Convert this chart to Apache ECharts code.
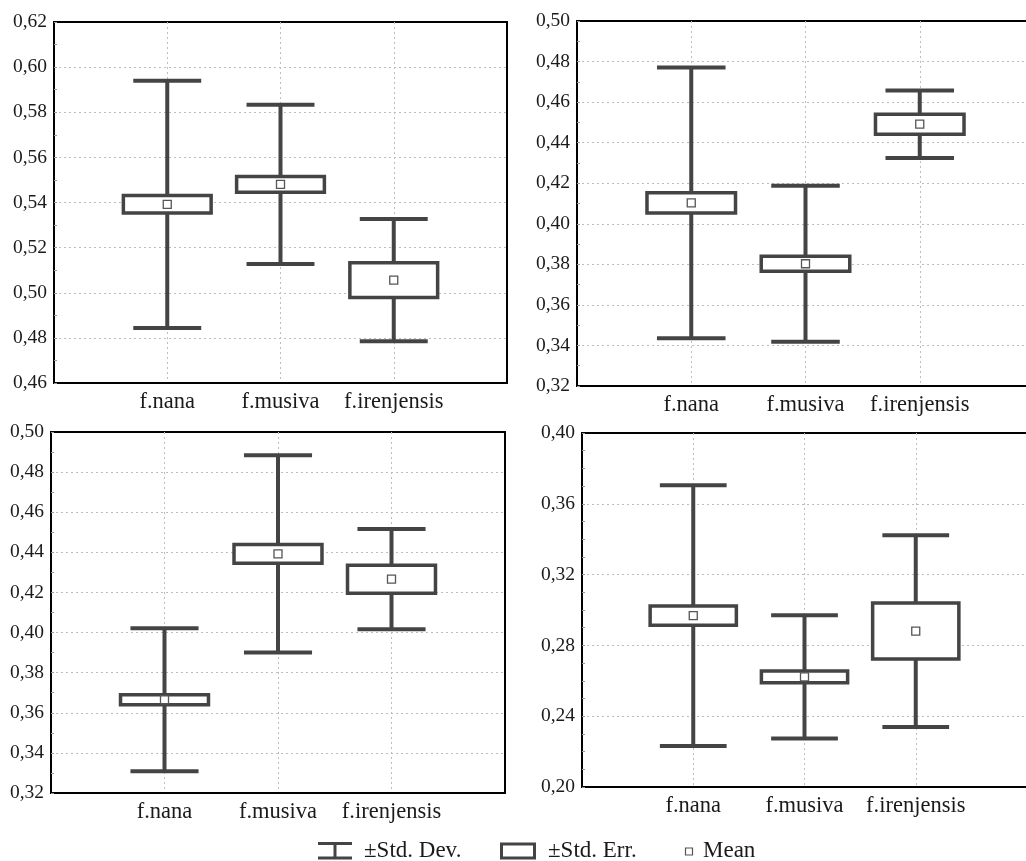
<!DOCTYPE html>
<html>
<head>
<meta charset="utf-8">
<script src="https://cdn.jsdelivr.net/npm/echarts@6/dist/echarts.min.js"></script>
<style>
html,body{margin:0;padding:0;background:#fff;}
#c{width:1026px;height:861px;}
</style>
</head>
<body>
<div id="c"></div>
<script>
// ---- data ----
const categories = ['f.nana', 'f.musiva', 'f.irenjensis'];

// Panel 1 (top-left)
const p1Mean = [0.5392, 0.5480, 0.5056];
const p1SE   = [0.0039, 0.0035, 0.0077];
const p1SD   = [0.0548, 0.0353, 0.0271];
// Panel 2 (top-right)
const p2Mean = [0.4103, 0.3803, 0.4491];
const p2SE   = [0.0050, 0.0037, 0.0049];
const p2SD   = [0.0668, 0.0385, 0.0166];
// Panel 3 (bottom-left)
const p3Mean = [0.3665, 0.4392, 0.4266];
const p3SE   = [0.0025, 0.0047, 0.0070];
const p3SD   = [0.0356, 0.0492, 0.0250];
// Panel 4 (bottom-right)
const p4Mean = [0.2968, 0.2622, 0.2881];
const p4SE   = [0.0054, 0.0033, 0.0158];
const p4SD   = [0.0737, 0.0348, 0.0542];

// y-axis ranges / tick steps
const yMin = [0.46, 0.32, 0.32, 0.20];
const yMax = [0.62, 0.50, 0.50, 0.40];
const yStep = [0.02, 0.02, 0.02, 0.04];
const yMinor = [2, 2, 2, 4];

const legendLabels = ['\u00B1Std. Dev.', '\u00B1Std. Err.', 'Mean'];

// ---- chart ----
const panels = [
  {mean: p1Mean, se: p1SE, sd: p1SD},
  {mean: p2Mean, se: p2SE, sd: p2SD},
  {mean: p3Mean, se: p3SE, sd: p3SD},
  {mean: p4Mean, se: p4SE, sd: p4SD}
];

const FONT = '"Liberation Serif", "Times New Roman", serif';
const LINE = '#444444';

const grids = [
  {left: 54, top: 22, right: 519, bottom: 478},
  {left: 577, top: 21, right: -8, bottom: 475},
  {left: 51, top: 432, right: 521, bottom: 68},
  {left: 582, top: 433, right: -1, bottom: 74}
];

const splitStyle = {color: '#bdbdbd', type: [2, 3], width: 1};

const xAxes = grids.map((g, i) => ({
  type: 'value', gridIndex: i, min: 0, max: 4, interval: 1,
  axisLine: {show: true, onZero: false, lineStyle: {color: '#000', width: 2}},
  axisTick: {show: false},
  splitLine: {show: true, showMinLine: false, showMaxLine: false, lineStyle: splitStyle},
  axisLabel: {
    fontFamily: FONT, fontSize: 22.5, color: '#1a1a1a', margin: 8,
    formatter: v => (v >= 1 && v <= 3) ? categories[v - 1] : ''
  }
}));

const yAxes = grids.map((g, i) => ({
  type: 'value', gridIndex: i, min: yMin[i], max: yMax[i], interval: yStep[i],
  axisLine: {show: true, onZero: false, lineStyle: {color: '#000', width: 2}},
  axisTick: {show: true, inside: true, length: 3, lineStyle: {color: '#999'}},
  minorTick: {show: true, splitNumber: yMinor[i], length: 3, lineStyle: {color: '#999'}},
  splitLine: {show: true, showMinLine: false, showMaxLine: false, lineStyle: splitStyle},
  axisLabel: {
    fontFamily: FONT, fontSize: 19.5, color: '#1a1a1a', margin: 7,
    formatter: v => v.toFixed(2).replace('.', ',')
  }
}));

function renderItem(params, api) {
  const xv = api.value(0), m = api.value(1), se = api.value(2), sd = api.value(3);
  const unit = api.size([1, 0])[0];
  const cx = api.coord([xv, m])[0];
  const yM = api.coord([xv, m])[1];
  const ySdT = api.coord([xv, m + sd])[1];
  const ySdB = api.coord([xv, m - sd])[1];
  const ySeT = api.coord([xv, m + se])[1];
  const ySeB = api.coord([xv, m - se])[1];
  const capW = unit * 0.60;
  const boxW = unit * 0.775;
  const ls = {stroke: LINE, lineWidth: 4};
  return {
    type: 'group',
    children: [
      {type: 'line', shape: {x1: cx, y1: ySdT, x2: cx, y2: ySdB}, style: ls},
      {type: 'line', shape: {x1: cx - capW / 2, y1: ySdT, x2: cx + capW / 2, y2: ySdT}, style: ls},
      {type: 'line', shape: {x1: cx - capW / 2, y1: ySdB, x2: cx + capW / 2, y2: ySdB}, style: ls},
      {type: 'rect', shape: {x: cx - boxW / 2, y: ySeT, width: boxW, height: ySeB - ySeT},
        style: {fill: '#fff', stroke: LINE, lineWidth: 3.5}},
      {type: 'rect', shape: {x: cx - 4, y: yM - 4, width: 8, height: 8},
        style: {fill: '#fff', stroke: '#555', lineWidth: 1.3}}
    ]
  };
}

const series = panels.map((p, i) => ({
  type: 'custom', xAxisIndex: i, yAxisIndex: i,
  renderItem: renderItem,
  clip: false,
  encode: {x: 0, y: 1},
  data: p.mean.map((m, k) => [k + 1, m, p.se[k], p.sd[k]])
}));

const legendY = 851;
const LFONT = '23px ' + FONT;
const graphic = [
  // SD icon
  {type: 'line', shape: {x1: 318, y1: 843.5, x2: 352, y2: 843.5}, style: {stroke: LINE, lineWidth: 3}},
  {type: 'line', shape: {x1: 335, y1: 843.5, x2: 335, y2: 858}, style: {stroke: LINE, lineWidth: 3}},
  {type: 'line', shape: {x1: 318, y1: 858, x2: 352, y2: 858}, style: {stroke: LINE, lineWidth: 3}},
  {type: 'text', x: 364, y: legendY, style: {text: legendLabels[0], font: LFONT, fill: '#1a1a1a', verticalAlign: 'middle'}},
  // SE icon
  {type: 'rect', shape: {x: 501.5, y: 844, width: 33, height: 14}, style: {fill: '#fff', stroke: LINE, lineWidth: 3}},
  {type: 'text', x: 548, y: legendY, style: {text: legendLabels[1], font: LFONT, fill: '#1a1a1a', verticalAlign: 'middle'}},
  // Mean icon
  {type: 'rect', shape: {x: 685.5, y: 848, width: 7, height: 7}, style: {fill: '#fff', stroke: '#555', lineWidth: 1.2}},
  {type: 'text', x: 703, y: legendY, style: {text: legendLabels[2], font: LFONT, fill: '#1a1a1a', verticalAlign: 'middle'}}
];

const chart = echarts.init(document.getElementById('c'), null, {renderer: 'canvas'});
chart.setOption({
  animation: false,
  backgroundColor: '#fff',
  grid: grids.map(g => Object.assign({show: true, borderColor: '#000', borderWidth: 2, backgroundColor: 'transparent', outerBoundsMode: 'none'}, g)),
  xAxis: xAxes,
  yAxis: yAxes,
  series: series,
  graphic: graphic
});
</script>
</body>
</html>
